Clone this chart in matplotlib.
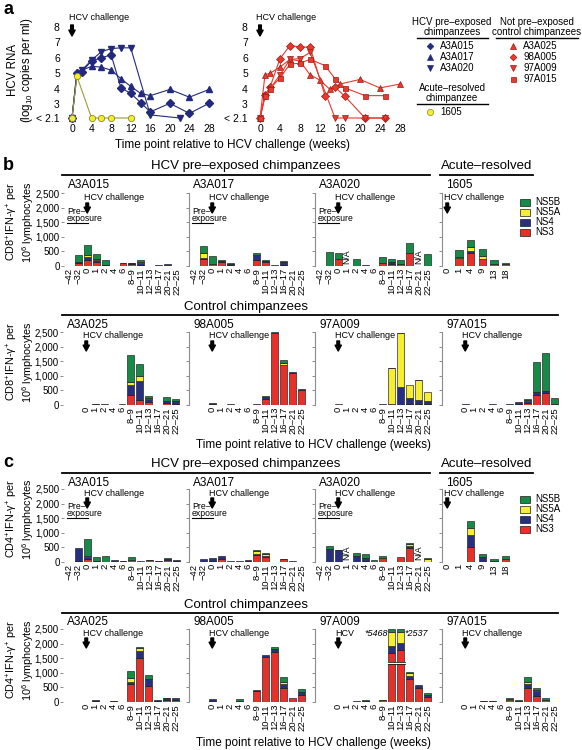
import numpy as np
import matplotlib
matplotlib.use("Agg")
import matplotlib.pyplot as plt
from matplotlib.lines import Line2D
from matplotlib.patches import Rectangle

plt.rcParams['font.family'] = ['Liberation Sans', 'DejaVu Sans']
plt.rcParams['mathtext.fontset'] = 'custom'
plt.rcParams['mathtext.rm'] = 'Liberation Sans'
plt.rcParams['mathtext.it'] = 'Liberation Sans:italic'

# ---------------- data: panel a (HCV RNA, log10 copies/ml) ----------------
weeks_ticks = [0, 4, 8, 12, 16, 20, 24, 28]
rna_ticks = [2.1, 3, 4, 5, 6, 7, 8]
rna_ticklabels = ['< 2.1', '3', '4', '5', '6', '7', '8']

A3A015_wk = [0, 1, 2, 4, 6, 8, 10, 12, 14, 16, 20, 24, 28]
A3A015_rna = [2.1, 5.0, 5.1, 5.8, 6.0, 6.2, 4.05, 3.7, 3.1, 2.5, 3.05, 2.4, 3.05]
A3A017_wk = [0, 1, 2, 4, 6, 8, 10, 12, 14, 16, 20, 24, 28]
A3A017_rna = [2.1, 5.1, 5.2, 5.45, 5.4, 5.2, 4.65, 4.15, 3.7, 3.55, 3.95, 3.45, 3.95]
A3A020_wk = [0, 1, 2, 4, 6, 8, 10, 12, 16, 22]
A3A020_rna = [2.1, 4.9, 5.2, 5.85, 6.4, 6.6, 6.65, 6.65, 2.3, 2.1]
c1605_wk = [0, 1, 4, 6, 8, 12]
c1605_rna = [2.1, 4.8, 2.1, 2.1, 2.1, 2.1]

A3A025_wk = [0, 1, 2, 4, 6, 8, 10, 12, 14, 16, 20, 24, 28]
A3A025_rna = [2.1, 4.9, 5.0, 5.4, 5.9, 5.8, 4.9, 4.55, 3.95, 4.3, 4.6, 4.05, 4.3]
c98A005_wk = [0, 1, 2, 4, 6, 8, 10, 13, 15, 17, 21, 25]
c98A005_rna = [2.1, 3.6, 4.1, 5.95, 6.8, 6.7, 6.7, 3.55, 4.1, 3.5, 2.1, 2.1]
c97A009_wk = [0, 1, 2, 4, 6, 8, 10, 15, 17, 21, 25]
c97A009_rna = [2.1, 3.5, 4.0, 4.9, 5.9, 5.95, 6.35, 2.1, 2.1, 2.1, 2.1]
c97A015_wk = [0, 1, 2, 4, 6, 8, 10, 13, 15, 17, 21, 25]
c97A015_rna = [2.1, 3.5, 4.0, 4.7, 5.6, 5.65, 5.9, 5.5, 4.65, 4.05, 3.55, 3.55]

# ---------------- data: panels b/c (IFN-gamma+ cells per 10^6) ----------------
cats_pre = ['\u221242', '\u221232', '0', '1', '2', '4', '6', '8\u20139', '10\u201311',
            '12\u201313', '16\u201317', '20\u201321', '22\u201325']
cats_1605 = ['0', '1', '4', '9', '13', '18']
N = np.nan

cd8_A3A015 = {'NS3': [5, 100, 200, 130, 20, 0, 100, 80, 20, 5, 5, 10, 5],
              'NS4': [0, 20, 100, 60, 30, 0, 0, 10, 90, 5, 25, 50, 5],
              'NS5A': [0, 0, 60, 50, 0, 0, 0, 0, 20, 0, 0, 0, 0],
              'NS5B': [5, 250, 370, 160, 140, 0, 10, 10, 60, 5, 0, 0, 0]}
cd8_A3A017 = {'NS3': [0, 240, 80, 150, 20, 0, 0, 200, 150, 10, 20, 5, 5],
              'NS4': [0, 20, 0, 30, 60, 0, 0, 170, 20, 10, 130, 5, 5],
              'NS5A': [0, 180, 0, 0, 0, 0, 0, 0, 0, 0, 0, 0, 0],
              'NS5B': [0, 260, 250, 35, 20, 0, 0, 60, 20, 0, 20, 0, 0]}
cd8_A3A020 = {'NS3': [0, 0, 230, 0, 10, 0, 0, 100, 60, 60, 460, 0, 0],
              'NS4': [0, 0, 0, 0, 0, 30, 10, 0, 80, 0, 0, 0, 0],
              'NS5A': [0, 0, 0, 0, 0, 0, 0, 0, 0, 0, 0, 0, 0],
              'NS5B': [10, 480, 230, 0, 220, 0, 0, 210, 90, 135, 320, 0, 400]}
cd8_1605 = {'NS3': [0, 260, 450, 230, 70, 80],
            'NS4': [0, 20, 60, 0, 0, 0],
            'NS5A': [0, 40, 140, 100, 0, 0],
            'NS5B': [0, 220, 230, 240, 150, 10]}
cd8_A3A025 = {'NS3': [N, N, 5, 20, 10, 5, 0, 330, 170, 90, 5, 80, 50],
              'NS4': [N, N, 5, 20, 20, 5, 0, 370, 660, 130, 5, 60, 100],
              'NS5A': [N, N, 0, 0, 0, 0, 0, 100, 160, 30, 0, 0, 0],
              'NS5B': [N, N, 0, 0, 0, 0, 50, 920, 410, 60, 0, 125, 45]}
cd8_98A005 = {'NS3': [N, N, 30, 0, 10, 5, 0, 10, 220, 2480, 1380, 1110, 530],
              'NS4': [N, N, 50, 0, 10, 5, 0, 20, 40, 0, 0, 10, 10],
              'NS5A': [N, N, 0, 0, 0, 0, 0, 0, 0, 0, 70, 0, 0],
              'NS5B': [N, N, 0, 0, 0, 0, 0, 0, 60, 20, 80, 0, 0]}
cd8_97A009 = {'NS3': [N, N, 30, 0, 5, 0, 0, 5, 30, 0, 20, 20, 20],
              'NS4': [N, N, 0, 0, 5, 0, 0, 25, 0, 620, 230, 160, 130],
              'NS5A': [N, N, 0, 0, 0, 0, 0, 0, 1230, 1840, 430, 660, 290],
              'NS5B': [N, N, 0, 0, 0, 0, 0, 0, 20, 20, 0, 10, 0]}
cd8_97A015 = {'NS3': [N, N, 10, 0, 0, 10, 0, 10, 20, 60, 330, 400, 20],
              'NS4': [N, N, 40, 0, 0, 30, 0, 20, 95, 80, 100, 80, 0],
              'NS5A': [N, N, 0, 0, 0, 0, 0, 0, 0, 40, 0, 0, 0],
              'NS5B': [N, N, 0, 0, 0, 0, 0, 0, 0, 30, 1030, 1290, 225]}

cd4_A3A015 = {'NS3': [0, 20, 100, 30, 0, 0, 20, 80, 0, 60, 20, 60, 50],
              'NS4': [0, 475, 60, 0, 0, 70, 20, 0, 0, 10, 10, 30, 10],
              'NS5A': [0, 0, 40, 0, 0, 0, 0, 0, 0, 0, 0, 0, 0],
              'NS5B': [0, 0, 600, 140, 220, 0, 0, 105, 20, 0, 0, 60, 0]}
cd4_A3A017 = {'NS3': [5, 0, 30, 90, 10, 10, 40, 240, 170, 0, 100, 10, 0],
              'NS4': [5, 100, 110, 110, 20, 20, 20, 20, 30, 0, 10, 10, 0],
              'NS5A': [0, 0, 0, 0, 0, 0, 0, 120, 70, 0, 0, 0, 0],
              'NS5B': [0, 0, 0, 0, 0, 0, 0, 40, 30, 0, 0, 0, 0]}
cd4_A3A020 = {'NS3': [0, 0, 0, 0, 0, 20, 0, 130, 0, 170, 470, 0, 0],
              'NS4': [10, 460, 400, 0, 200, 120, 0, 0, 0, 0, 80, 0, 0],
              'NS5A': [0, 0, 0, 0, 0, 0, 0, 0, 0, 0, 60, 0, 100],
              'NS5B': [0, 100, 20, 0, 110, 120, 80, 70, 0, 0, 40, 0, 30]}
cd4_1605 = {'NS3': [0, 0, 500, 0, 40, 90],
            'NS4': [0, 0, 430, 180, 0, 0],
            'NS5A': [0, 0, 220, 0, 0, 0],
            'NS5B': [0, 0, 240, 80, 50, 110]}
cd4_A3A025 = {'NS3': [N, N, 0, 30, 0, 20, 0, 620, 1520, 560, 50, 60, 60],
              'NS4': [N, N, 0, 40, 0, 20, 0, 80, 220, 240, 30, 80, 90],
              'NS5A': [N, N, 0, 0, 0, 0, 0, 120, 110, 0, 0, 0, 0],
              'NS5B': [N, N, 0, 0, 0, 0, 0, 250, 30, 120, 0, 10, 0]}
cd4_98A005 = {'NS3': [N, N, 20, 0, 0, 50, 0, 370, 1530, 1720, 490, 150, 230],
              'NS4': [N, N, 70, 0, 0, 0, 0, 30, 70, 80, 130, 0, 100],
              'NS5A': [N, N, 0, 0, 0, 0, 0, 0, 0, 0, 80, 0, 0],
              'NS5B': [N, N, 0, 0, 0, 40, 0, 0, 0, 70, 140, 0, 130]}
# bars for 10-11 and 12-13 are shown truncated at the axis top (true totals annotated)
cd4_97A009 = {'NS3': [N, N, 0, 0, 10, 20, 0, 60, 1680, 1770, 780, 480, 170],
              'NS4': [N, N, 0, 0, 10, 20, 0, 0, 230, 255, 120, 110, 60],
              'NS5A': [N, N, 0, 0, 0, 0, 0, 0, 475, 360, 80, 0, 0],
              'NS5B': [N, N, 0, 0, 0, 40, 0, 20, 115, 115, 40, 0, 95]}
cd4_97A009_truncated = {'10\u201311': '*5468', '12\u201313': '*2537'}
cd4_97A015 = {'NS3': [N, N, 0, 0, 20, 20, 0, 70, 0, 490, 200, 80, 0],
              'NS4': [N, N, 0, 0, 30, 30, 0, 0, 20, 130, 160, 0, 0],
              'NS5A': [N, N, 0, 0, 0, 0, 0, 40, 0, 80, 60, 0, 0],
              'NS5B': [N, N, 0, 0, 0, 0, 0, 40, 40, 170, 55, 70, 0]}
na_A3A020 = ['1', '20\u201321']

components = ['NS3', 'NS4', 'NS5A', 'NS5B']
comp_colors = {'NS3': '#e8302a', 'NS4': '#262f80', 'NS5A': '#f6ee30', 'NS5B': '#178a47'}
y_ticks = [0, 500, 1000, 1500, 2000, 2500]

# ---------------- figure helpers ----------------
W, H = 582, 750
fig = plt.figure(figsize=(W / 100, H / 100), dpi=100)


def add_ax(l, t, w, h):
    return fig.add_axes([l / W, 1 - (t + h) / H, w / W, h / H])


def ftext(x, y, s, **kw):
    kw.setdefault('va', 'center')
    return fig.text(x / W, 1 - y / H, s, **kw)


def fline(x0, x1, y, lw=1.3):
    fig.add_artist(Line2D([x0 / W, x1 / W], [1 - y / H, 1 - y / H], color='k', lw=lw))


def fy(py):
    return 1 - py / H


ARROW = dict(arrowstyle='simple,head_width=0.75,head_length=0.7,tail_width=0.32',
             color='k', shrinkA=0, shrinkB=0, mutation_scale=6)

# ---------------- panel a ----------------
NAVY = '#232a7e'
RED = '#e8392e'
REDE = '#9c1a14'

ftext(3, 10, 'a', fontsize=13, fontweight='bold')

axL = add_ax(64, 22, 150, 100)
axR = add_ax(252, 22, 153, 100)
axL.set_xlim((64 - 72) / 4.893, (214 - 72) / 4.893)
axR.set_xlim(-1.6, 29.0)
for ax in (axL, axR):
    ax.set_ylim(2.1 - 4 / 15.42, 8 + 5 / 15.42)
    for s in ax.spines.values():
        s.set_visible(False)
    ax.set_xticks(weeks_ticks)
    ax.set_xticklabels([str(w) for w in weeks_ticks], fontsize=7.5)
    ax.set_yticks(rna_ticks)
    ax.set_yticklabels(rna_ticklabels, fontsize=7.5)
    ax.tick_params(length=0, pad=3)
    ax.tick_params(axis='x', pad=1.5)
    ax.patch.set_alpha(0)

mk = dict(lw=0.8, markersize=4.2)
axL.plot(A3A015_wk, A3A015_rna, color=NAVY, marker='D', markersize=3.6, lw=0.8, mec=NAVY)
axL.plot(A3A017_wk, A3A017_rna, color=NAVY, marker='^', mec=NAVY, **mk)
axL.plot(A3A020_wk, A3A020_rna, color=NAVY, marker='v', mec=NAVY, **mk)
axL.plot(c1605_wk, c1605_rna, color='#9c9c3a', marker='o', mfc='#f5ec2a', mec='#8a8a30',
         lw=0.8, markersize=4.5, mew=0.6)

axR.plot(A3A025_wk, A3A025_rna, color=RED, marker='^', mfc=RED, mec=REDE, mew=0.5, **mk)
axR.plot(c98A005_wk, c98A005_rna, color=RED, marker='D', mfc=RED, mec=REDE, mew=0.5,
         markersize=3.6, lw=0.8)
axR.plot(c97A009_wk, c97A009_rna, color=RED, marker='v', mfc=RED, mec=REDE, mew=0.5, **mk)
axR.plot(c97A015_wk, c97A015_rna, color=RED, marker='s', mfc=RED, mec=REDE, mew=0.5,
         lw=0.8, markersize=3.6)

for ax, tx in ((axL, 69), (axR, 256)):
    ftext(tx, 17, 'HCV challenge', fontsize=6.5, ha='left')
    ax.annotate('', xy=(0, fy(36)), xycoords=('data', 'figure fraction'),
                xytext=(0, fy(25)), textcoords=('data', 'figure fraction'),
                arrowprops=ARROW, annotation_clip=False)

ftext(21, 70, 'HCV RNA\n(log$_{10}$ copies per ml)', fontsize=8.3, rotation=90,
      ha='center', multialignment='center', linespacing=1.0)
ftext(232, 145, 'Time point relative to HCV challenge (weeks)', fontsize=8.5, ha='center')

# legend panel a
ftext(452, 27, 'HCV pre\u2013exposed\nchimpanzees', fontsize=7, ha='center',
      multialignment='center', linespacing=1.0)
fline(417, 488, 38, lw=1.0)
ftext(537, 27, 'Not pre\u2013exposed\ncontrol chimpanzees', fontsize=7, ha='center',
      multialignment='center', linespacing=1.0)
fline(496, 578, 38, lw=1.0)
ftext(452, 93, 'Acute\u2013resolved\nchimpanzee', fontsize=7, ha='center',
      multialignment='center', linespacing=1.0)
fline(417, 488, 104, lw=1.0)

leg_items = [(430, 46, 'D', NAVY, NAVY, 'A3A015', 3.4),
             (430, 57, '^', NAVY, NAVY, 'A3A017', 4.2),
             (430, 68, 'v', NAVY, NAVY, 'A3A020', 4.2),
             (430, 112, 'o', '#f5ec2a', '#8a8a30', '1605', 4.5),
             (513, 46, '^', RED, REDE, 'A3A025', 4.2),
             (513, 57, 'D', RED, REDE, '98A005', 3.4),
             (513, 68, 'v', RED, REDE, '97A009', 4.2),
             (513, 79, 's', RED, REDE, '97A015', 3.6)]
for x, y, m, fc, ec, lab, ms in leg_items:
    fig.add_artist(Line2D([x / W], [fy(y)], marker=m, mfc=fc, mec=ec, ms=ms, mew=0.5,
                          ls='none', transform=fig.transFigure))
    ftext(x + 10, y, lab, fontsize=7, ha='left')

# ---------------- panels b and c ----------------
BAR_H = 73


def bar_panel(left, top, cats, data, first_col=False, n13=True, title='', title_y=None,
              hcv_text='HCV challenge', hcv_y=None, pre=False, na=None):
    width = 118 if n13 else 70
    ax = add_ax(left, top, width, BAR_H)
    if n13:
        ax.set_xlim(-0.6, len(cats) - 0.4)
        bw = 0.78
    else:
        ax.set_xlim(-0.45, len(cats) - 0.45)
        bw = 0.62
    ax.set_ylim(0, 2500)
    x = np.arange(len(cats))
    bottom = np.zeros(len(cats))
    for comp in components:
        v = np.nan_to_num(np.array(data[comp], dtype=float))
        m = v > 0
        ax.bar(x[m], v[m], bw, bottom=bottom[m], color=comp_colors[comp],
               edgecolor='#1b1b1b', linewidth=0.45, zorder=2)
        bottom += v
    valid = ~np.isnan(np.array(data['NS3'], dtype=float))
    ax.set_xticks(x)
    ax.set_xticklabels([c if ok else '' for c, ok in zip(cats, valid)], rotation=90,
                       fontsize=6.8)
    ax.tick_params(axis='x', length=0, pad=1.5)
    ax.set_yticks(y_ticks)
    for s in ('top', 'right', 'bottom'):
        ax.spines[s].set_visible(False)
    ax.spines['left'].set_color('#8c8c8c')
    ax.spines['left'].set_linewidth(0.8)
    ax.tick_params(axis='y', length=2.2, width=0.7, color='#8c8c8c', pad=1)
    if first_col:
        ax.set_yticklabels([f'{t:,}' for t in y_ticks], fontsize=7)
        ax.spines['left'].set_visible(False)
    else:
        ax.set_yticklabels([])
    ax.patch.set_alpha(0)
    # title
    ftext(left + 4, title_y, title, fontsize=8.5, ha='left')
    # challenge arrow at week 0
    i0 = list(cats).index('0')
    px0 = left + (i0 - ax.get_xlim()[0]) * width / (ax.get_xlim()[1] - ax.get_xlim()[0])
    ftext(px0 - 3, hcv_y, hcv_text, fontsize=6.5, ha='left')
    ax.annotate('', xy=(i0, fy(hcv_y + 15)), xycoords=('data', 'figure fraction'),
                xytext=(i0, fy(hcv_y + 5)), textcoords=('data', 'figure fraction'),
                arrowprops=ARROW, annotation_clip=False)
    if pre:
        ftext(left + 3, hcv_y + 17, 'Pre\u2013\nexposure', fontsize=6.2, ha='left',
              linespacing=0.85)
        fline(left + 3, left + 24, hcv_y + 25, lw=0.8)
    if na:
        for c in na:
            ax.text(list(cats).index(c), 60, 'N/A', rotation=90, fontsize=6.3,
                    ha='center', va='bottom')
    return ax


lefts = [64, 189, 315, 442]


def cd_row_pre(top, d15, d17, d20, d1605, title_y, hcv_y):
    bar_panel(lefts[0], top, cats_pre, d15, first_col=True, title='A3A015', title_y=title_y,
              hcv_y=hcv_y, pre=True)
    bar_panel(lefts[1], top, cats_pre, d17, title='A3A017', title_y=title_y, hcv_y=hcv_y,
              pre=True)
    bar_panel(lefts[2], top, cats_pre, d20, title='A3A020', title_y=title_y, hcv_y=hcv_y,
              pre=True, na=na_A3A020)
    bar_panel(lefts[3], top, cats_1605, d1605, n13=False, title='1605', title_y=title_y,
              hcv_y=hcv_y)


def cd_row_ctrl(top, d25, d05, d09, d15, title_y, hcv_y, short09=False):
    bar_panel(lefts[0] - 1, top, cats_pre, d25, first_col=True, title='A3A025',
              title_y=title_y, hcv_y=hcv_y)
    bar_panel(lefts[1], top, cats_pre, d05, title='98A005', title_y=title_y, hcv_y=hcv_y)
    ax09 = bar_panel(lefts[2], top, cats_pre, d09, title='97A009', title_y=title_y,
                     hcv_y=hcv_y, hcv_text='HCV' if short09 else 'HCV challenge')
    bar_panel(lefts[3], top, cats_pre, d15, title='97A015', title_y=title_y, hcv_y=hcv_y)
    return ax09


def legend_bc(y0):
    for k, comp in enumerate(['NS5B', 'NS5A', 'NS4', 'NS3']):
        y = y0 + 10 * k
        fig.add_artist(Rectangle(((520) / W, fy(y + 3.5)), 10 / W, 7 / H,
                                 facecolor=comp_colors[comp], edgecolor='#1b1b1b',
                                 linewidth=0.5, transform=fig.transFigure))
        ftext(535, y, comp, fontsize=7, ha='left')


ylab8 = 'CD8$^{+}$IFN-\u03b3$^{+}$ per\n10$^{6}$ lymphocytes'
ylab4 = 'CD4$^{+}$IFN-\u03b3$^{+}$ per\n10$^{6}$ lymphocytes'
YL = dict(fontsize=7.8, rotation=90, ha='center', multialignment='center', linespacing=1.0)

# ---- panel b ----
ftext(3, 166, 'b', fontsize=13, fontweight='bold')
ftext(246, 166, 'HCV pre\u2013exposed chimpanzees', fontsize=9.5, ha='center')
fline(62, 430, 175)
ftext(487, 166, 'Acute\u2013resolved', fontsize=9.5, ha='center')
fline(440, 533, 175)
cd_row_pre(193, cd8_A3A015, cd8_A3A017, cd8_A3A020, cd8_1605, title_y=185, hcv_y=198)
legend_bc(202)
ftext(20, 222, ylab8, **YL)

ftext(246, 307, 'Control chimpanzees', fontsize=9.5, ha='center')
fline(62, 558, 315)
cd_row_ctrl(332, cd8_A3A025, cd8_98A005, cd8_97A009, cd8_97A015, title_y=325, hcv_y=336)
ftext(20, 362, ylab8, **YL)
ftext(313, 445, 'Time point relative to HCV challenge (weeks)', fontsize=8.5, ha='center')

# ---- panel c ----
ftext(3, 463, 'c', fontsize=13, fontweight='bold')
ftext(246, 464, 'HCV pre\u2013exposed chimpanzees', fontsize=9.5, ha='center')
fline(62, 430, 473)
ftext(487, 464, 'Acute\u2013resolved', fontsize=9.5, ha='center')
fline(440, 533, 473)
cd_row_pre(489, cd4_A3A015, cd4_A3A017, cd4_A3A020, cd4_1605, title_y=483, hcv_y=493)
legend_bc(499)
ftext(20, 519, ylab4, **YL)

ftext(246, 605, 'Control chimpanzees', fontsize=9.5, ha='center')
fline(62, 558, 613)
ax09 = cd_row_ctrl(629, cd4_A3A025, cd4_98A005, cd4_97A009, cd4_97A015, title_y=622,
                   hcv_y=633, short09=True)
ftext(20, 660, ylab4, **YL)
ftext(313, 743, 'Time point relative to HCV challenge (weeks)', fontsize=8.5, ha='center')

# axis break on truncated bars + true totals
i10 = cats_pre.index('10\u201311')
i12 = cats_pre.index('12\u201313')
ax09.add_patch(Rectangle((i10 - 0.5, 1300), i12 - i10 + 1.0, 70, facecolor='white',
                         edgecolor='none', zorder=3))
for yb in (1300, 1370):
    ax09.plot([i10 - 0.42, i12 + 0.42], [yb, yb], color='#1b1b1b', lw=0.6, zorder=4)
for cat, lab in cd4_97A009_truncated.items():
    i = cats_pre.index(cat)
    if i == i10:
        ax09.text(i - 0.45, 2330, lab, fontsize=6.5, style='italic', ha='right', va='center')
    else:
        ax09.text(i + 0.45, 2330, lab, fontsize=6.5, style='italic', ha='left', va='center')

fig.savefig('out.png', dpi=100)
